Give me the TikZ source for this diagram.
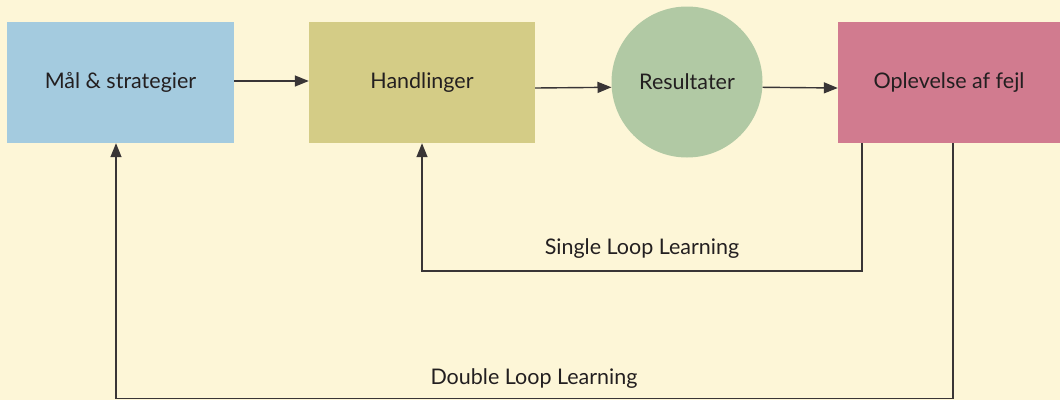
\documentclass[tikz,border=0pt]{standalone}
\usepackage{fontspec}
\setmainfont{Lato}
\usetikzlibrary{arrows.meta,calc}
\definecolor{bg}{HTML}{FDF6D7}
\definecolor{cblue}{HTML}{A4CBDF}
\definecolor{colive}{HTML}{D4CC86}
\definecolor{cgreen}{HTML}{B1C9A4}
\definecolor{cpink}{HTML}{D17B8F}
\definecolor{ink}{HTML}{231F20}
\begin{document}
\begin{tikzpicture}[x=1pt,y=-1pt,
  txt/.style={text=ink,font=\fontsize{21.5}{24}\selectfont},
  box/.style={rectangle,minimum height=121pt,inner sep=0pt,txt},
  lbl/.style={txt,inner sep=0pt},
  arr/.style={draw=ink!90,line width=1.4pt,-{Triangle[length=14pt,width=11pt]}},
  ln/.style={draw=ink!90,line width=1.4pt}]
\fill[bg] (0,0) rectangle (1060,400);
\useasboundingbox (0,0) rectangle (1060,400);
\node[box,fill=cblue,minimum width=227pt] (goal) at (120.5,82.5) {Mål \& strategier};
\node[box,fill=colive,minimum width=226pt] (hand) at (422,82.5) {Handlinger};
\node[circle,fill=cgreen,minimum size=151pt,inner sep=0pt,txt] (res) at (687,82) {Resultater};
\node[box,fill=cpink,minimum width=222pt] (pink) at (949,82.5) {Oplevelse af fejl};
\draw[arr] ([yshift=1.5pt]goal.east) -- ([yshift=1.5pt]hand.west);
\draw[arr] ([yshift=-5.5pt]hand.east) -- (res.184.5);
\draw[arr] (res.-4.5) -- ([yshift=-5.5pt]pink.west);
\coordinate (s1) at (862,271);
\coordinate (s2) at (422,271);
\coordinate (d1) at (953,398.5);
\coordinate (d2) at (116,398.5);
\draw[arr] (pink.south -| s1) -- (s1) -- (s2) -- (hand.south -| s2);
\draw[arr] (pink.south -| d1) -- (d1) -- (d2) -- (goal.south -| d2);
\node[lbl] (single) at (642,249) {Single Loop Learning};
\node[lbl] (double) at (534,379) {Double Loop Learning};
\end{tikzpicture}
\end{document}
